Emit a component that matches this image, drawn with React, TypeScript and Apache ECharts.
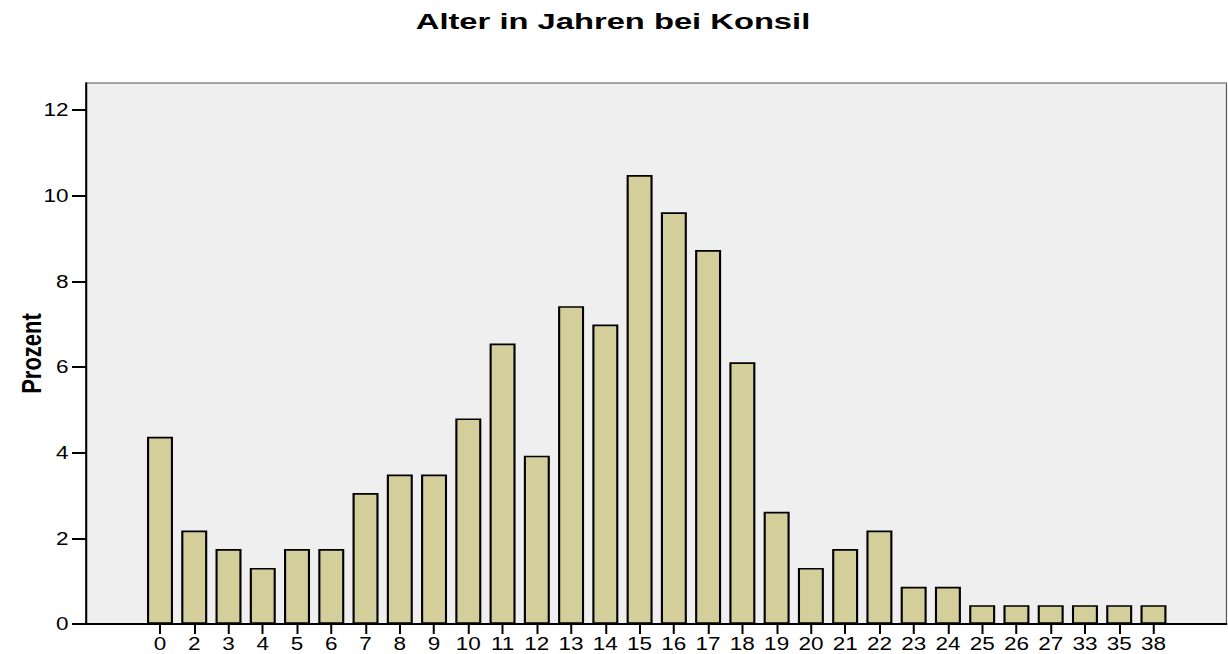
import React, { useEffect, useRef } from "react";
import * as echarts from "echarts";

const categories = ["0","2","3","4","5","6","7","8","9","10","11","12","13","14","15","16","17","18","19","20","21","22","23","24","25","26","27","33","35","38"];
const percent = [4.37,2.18,1.75,1.31,1.75,1.75,3.06,3.49,3.49,4.80,6.55,3.93,7.42,6.99,10.48,9.61,8.73,6.11,2.62,1.31,1.75,2.18,0.87,0.87,0.44,0.44,0.44,0.44,0.44,0.44];
const yTicks = [0, 2, 4, 6, 8, 10, 12];
const yMax = 12.63;
const titleText = "Alter in Jahren bei Konsil";

// The reference is horizontally stretched; draw narrower and stretch with CSS.
const SX = 1.25;
const W = 1228 / SX;

export default function App() {
  const ref = useRef<HTMLDivElement>(null);
  useEffect(() => {
    if (!ref.current) return;
    const chart = echarts.init(ref.current, null, { renderer: "svg" });
    const font = "Liberation Sans";
    chart.setOption({
      animation: false,
      backgroundColor: "#ffffff",
      graphic: [
        {
          type: "text",
          x: 613 / SX,
          y: 10,
          scaleX: 1.19,
          style: { text: titleText, align: "center", verticalAlign: "top", fontFamily: font, fontWeight: "bold", fontSize: 22, fill: "#000" },
        },
      ],
      grid: [
        { left: 86 / SX, right: 1 / SX, top: 83, bottom: 30, show: true, backgroundColor: "#efefef", borderColor: "#555", borderWidth: 1, containLabel: false, outerBoundsMode: "none" },
        { left: 142.86 / SX, right: 56.9 / SX, top: 83, bottom: 30, containLabel: false, outerBoundsMode: "none" },
      ],
      xAxis: [
        {
          type: "value", gridIndex: 0, min: 0, max: 1,
          axisLine: { show: true, lineStyle: { color: "#000", width: 2 } },
          axisTick: { show: false }, axisLabel: { show: false }, splitLine: { show: false },
        },
        {
          type: "category", gridIndex: 1, data: categories,
          axisLine: { show: false },
          axisTick: { show: true, alignWithLabel: true, length: 10, lineStyle: { color: "#000", width: 1.6 } },
          axisLabel: { color: "#000", fontFamily: font, fontSize: 18, margin: 11 },
        },
      ],
      yAxis: [
        {
          type: "value", gridIndex: 0, min: 0, max: yMax,
          name: "Prozent", nameLocation: "middle", nameGap: 33, nameMoveOverlap: false,
          nameTextStyle: { fontFamily: font, fontWeight: "bold", fontSize: 22, color: "#000" },
          axisLine: { show: true, lineStyle: { color: "#000", width: 1.6 } },
          axisTick: { show: true, length: 14 / SX, customValues: yTicks, lineStyle: { color: "#000", width: 2 } },
          axisLabel: { customValues: yTicks, color: "#000", fontFamily: font, fontSize: 18, margin: 14 },
          splitLine: { show: false },
        },
        {
          type: "value", gridIndex: 1, min: 0, max: yMax, show: false,
        },
      ],
      series: [
        {
          type: "bar", xAxisIndex: 1, yAxisIndex: 1, data: percent, barWidth: 26 / SX,
          itemStyle: { color: "#d4cf9a", borderColor: "#000", borderWidth: 1.7 },
        },
      ],
    });
    return () => chart.dispose();
  }, []);
  return (
    <div
      ref={ref}
      style={{ width: W, height: 654, position: "absolute", left: 0, top: 0, transform: `scaleX(${SX})`, transformOrigin: "0 0" }}
    />
  );
}
